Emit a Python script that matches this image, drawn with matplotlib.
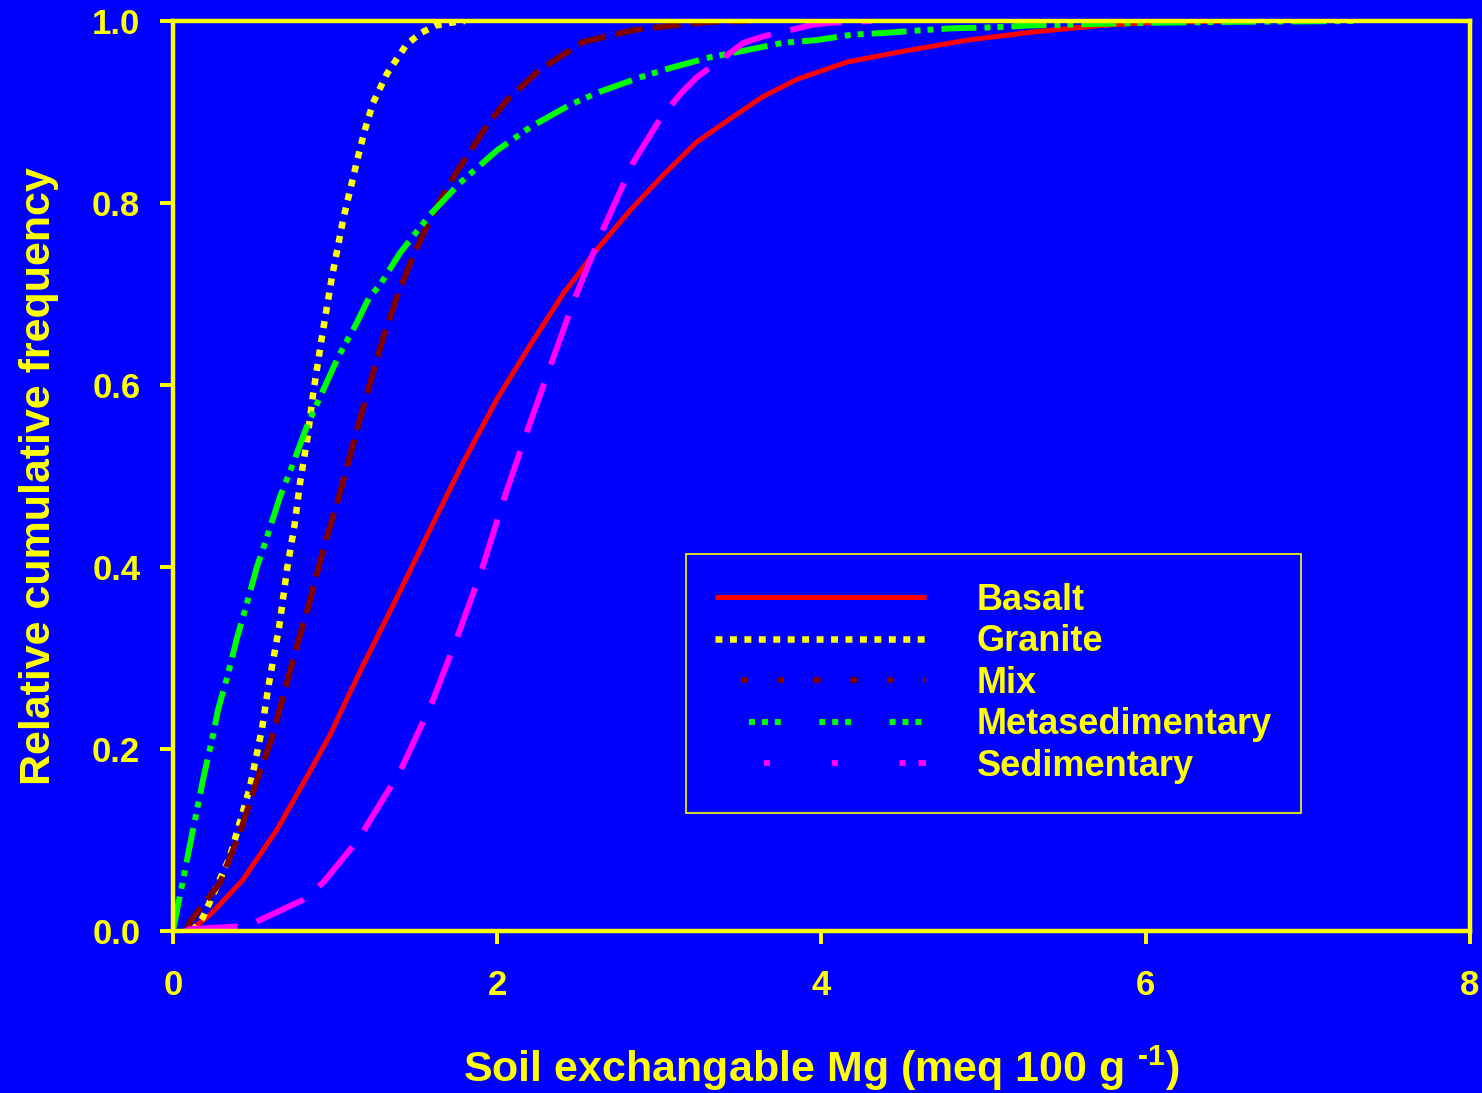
import matplotlib
matplotlib.use("Agg")
import matplotlib.pyplot as plt
from matplotlib.lines import Line2D

plt.rcParams['font.family'] = ['Liberation Sans', 'DejaVu Sans']
plt.rcParams['font.weight'] = 'bold'
plt.rcParams['axes.labelweight'] = 'bold'
plt.rcParams['mathtext.fontset'] = 'custom'
plt.rcParams['mathtext.rm'] = 'Liberation Sans:bold'
plt.rcParams['mathtext.default'] = 'regular'
# dash lengths below are given in points, not in multiples of the line width
plt.rcParams['lines.scale_dashes'] = False

BLUE = '#0000ff'
YELLOW = '#ffff00'

# cumulative frequency curves, soil exchangeable Mg (meq 100 g-1)
basalt_x = [0.1, 0.23, 0.43, 0.64, 0.85, 0.97, 1.07, 1.17, 1.38, 1.585, 1.79, 2.0, 2.20, 2.41,
            2.615, 2.82, 3.02, 3.23, 3.44, 3.64, 3.85, 4.16, 4.48, 4.90, 5.31, 5.72, 6.0, 6.5]
basalt_y = [0.0, 0.018, 0.056, 0.111, 0.177, 0.216, 0.254, 0.291, 0.366, 0.441, 0.515, 0.585,
            0.643, 0.701, 0.749, 0.792, 0.830, 0.867, 0.893, 0.917, 0.936, 0.955, 0.966, 0.979,
            0.988, 0.995, 0.998, 1.0]

granite_x = [0.12, 0.185, 0.35, 0.475, 0.55, 0.59, 0.655, 0.705, 0.75, 0.785, 0.83, 0.865,
             0.92, 0.98, 1.05, 1.135, 1.18, 1.234, 1.32, 1.44, 1.53, 1.62, 1.71, 1.80]
granite_y = [0.0, 0.015, 0.081, 0.158, 0.223, 0.27, 0.334, 0.399, 0.446, 0.494, 0.542, 0.591,
             0.654, 0.718, 0.782, 0.846, 0.878, 0.91, 0.942, 0.974, 0.987, 0.995, 0.998, 1.0]

mix_x = [0.08, 0.105, 0.29, 0.413, 0.518, 0.61, 0.703, 0.765, 0.833, 0.888, 0.95, 1.018, 1.08,
         1.14, 1.203, 1.295, 1.39, 1.48, 1.565, 1.66, 1.75, 1.94, 2.06, 2.26, 2.53, 2.84,
         3.08, 3.31, 3.55]
mix_y = [0.0, 0.01, 0.053, 0.108, 0.166, 0.212, 0.273, 0.314, 0.355, 0.393, 0.433, 0.474, 0.514,
         0.554, 0.594, 0.651, 0.701, 0.741, 0.774, 0.807, 0.834, 0.886, 0.913, 0.946, 0.977, 0.99,
         0.995, 0.999, 1.0]

meta_x = [0.0, 0.12, 0.185, 0.247, 0.278, 0.333, 0.395, 0.45, 0.518, 0.58, 0.66, 0.735, 0.825,
          0.913, 1.02, 1.13, 1.21, 1.277, 1.40, 1.585, 1.77, 2.0, 2.21, 2.45, 2.63, 2.88, 3.08,
          3.31, 3.54, 3.76, 3.97, 4.19, 4.40, 4.63, 4.81, 5.06, 5.27, 5.51, 6.0, 6.5, 7.32]
meta_y = [0.0, 0.108, 0.166, 0.215, 0.243, 0.278, 0.322, 0.356, 0.40, 0.433, 0.477, 0.511, 0.554,
          0.589, 0.631, 0.667, 0.696, 0.71, 0.745, 0.787, 0.822, 0.858, 0.884, 0.908, 0.922, 0.938,
          0.949, 0.960, 0.968, 0.976, 0.979, 0.985, 0.987, 0.99, 0.992, 0.993, 0.995, 0.996, 0.998,
          0.999, 1.0]

sed_x = [0.08, 0.1, 0.4, 0.5, 0.8, 0.925, 1.15, 1.23, 1.40, 1.60, 1.76, 1.91, 2.04, 2.18, 2.33,
         2.48, 2.65, 2.84, 3.0, 3.13, 3.23, 3.52, 3.64, 3.95, 4.05, 4.31]
sed_y = [0.0, 0.002, 0.005, 0.009, 0.034, 0.053, 0.102, 0.126, 0.175, 0.252, 0.326, 0.40, 0.474,
         0.547, 0.622, 0.696, 0.770, 0.845, 0.891, 0.920, 0.938, 0.976, 0.983, 0.996, 0.998, 1.0]

labels = ['Basalt', 'Granite', 'Mix', 'Metasedimentary', 'Sedimentary']
colors = ['#ff0000', YELLOW, '#800000', '#00ff00', '#ff00ff']
widths = [3.6, 4.7, 4.3, 4.3, 4.3]
line_dashes = [None,
               (0, (5.0, 5.4)),
               (0, (20.2, 7.2)),
               (0, (25.2, 5.8, 4.3, 5.0, 4.3, 5.8)),
               (0, (37.4, 14.4))]
# the legend swatches use their own spacing
legend_dashes = [None,
                 (0, (5.0, 5.4)),
                 (7.6, (4.7, 21.6)),
                 (26.1, (4.3, 5.0, 4.3, 5.0, 4.3, 27.7)),
                 (147.2, (4.3, 44.6, 4.3, 44.3, 4.3, 9.4, 36.0, 35.3))]

series = [(basalt_x, basalt_y), (granite_x, granite_y), (mix_x, mix_y),
          (meta_x, meta_y), (sed_x, sed_y)]

fig = plt.figure(figsize=(14.82, 10.93), dpi=100, facecolor=BLUE)
ax = fig.add_axes([0.1167, 0.1482, 0.8752, 0.8326])
ax.set_facecolor(BLUE)

handles = []
for (xs, ys), lab, c, lw, ls, lds in zip(series, labels, colors, widths, line_dashes, legend_dashes):
    ax.plot(xs, ys, color=c, lw=lw, linestyle='-' if ls is None else ls,
            solid_capstyle='butt', dash_capstyle='butt', solid_joinstyle='round')
    handles.append(Line2D([], [], color=c, lw=lw, linestyle='-' if lds is None else lds,
                          solid_capstyle='butt', dash_capstyle='butt', label=lab))

ax.set_xlim(0, 8)
ax.set_ylim(0, 1)
ax.set_xticks([0, 2, 4, 6, 8])
ax.set_yticks([0.0, 0.2, 0.4, 0.6, 0.8, 1.0])
ax.set_yticklabels(['%.1f' % v for v in [0.0, 0.2, 0.4, 0.6, 0.8, 1.0]])

for s in ax.spines.values():
    s.set_color(YELLOW)
    s.set_linewidth(3.2)
ax.tick_params(colors=YELLOW, labelcolor=YELLOW, labelsize=25, direction='out',
               length=9.5, width=2.8)
ax.tick_params(axis='x', pad=17.5)
ax.tick_params(axis='y', pad=14)

ax.set_xlabel(r'Soil exchangable Mg (meq 100 g $^{\text{-1}}$)', fontsize=31,
              color=YELLOW, labelpad=30)
ax.set_ylabel('Relative cumulative frequency', fontsize=31, color=YELLOW, labelpad=24)

leg = ax.legend(handles=handles, loc='upper left', bbox_to_anchor=(0.3955, 0.4143),
                borderaxespad=0, fontsize=26, handlelength=5.85, handletextpad=1.41,
                borderpad=0.8, labelspacing=0.18, fancybox=False, framealpha=1,
                facecolor=BLUE, edgecolor=YELLOW)
leg.get_frame().set_linewidth(1.2)
for t in leg.get_texts():
    t.set_color(YELLOW)

fig.savefig('out.png', dpi=100, facecolor=BLUE)
